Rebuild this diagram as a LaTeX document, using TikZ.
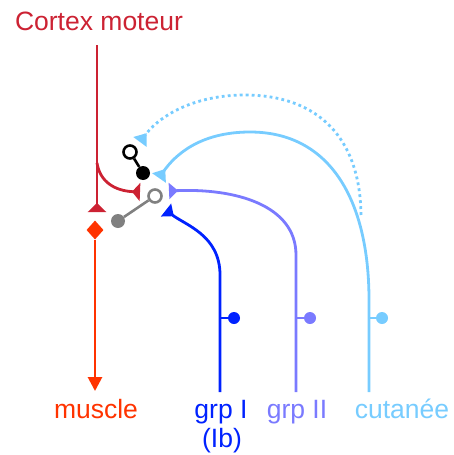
\documentclass[tikz,border=0pt]{standalone}
\usepackage{fontspec}
\setmainfont{Liberation Sans}
\usetikzlibrary{arrows.meta,%
                shapes.geometric}
\definecolor{cortex}{RGB}{204,34,51}
\definecolor{muscle}{RGB}{255,51,0}
\definecolor{grpI}{RGB}{0,34,255}
\definecolor{grpII}{RGB}{122,122,255}
\definecolor{cutan}{RGB}{119,204,255}
\definecolor{inter}{RGB}{128,128,128}
\tikzset{FibreStyle/.style = {line width=2.8pt},
         SynStyle/.style = {-{Triangle[reversed,width=18pt,length=9pt]}},
         OpenStyle/.style = {draw,circle,line width=2.6pt,fill=white,minimum size=13pt,inner sep=0pt},
         FullStyle/.style = {circle,minimum size=14pt,inner sep=0pt},
         DotStyle/.style = {circle,minimum size=12pt,inner sep=0pt},
         LabelStyle/.style = {anchor=base,font=\fontsize{26.5}{31}\selectfont}}
\begin{document}
\begin{tikzpicture}[x=1pt,y=-1pt]
		\useasboundingbox (0,0) rectangle (454,455);
		% labels
		\node[LabelStyle,text=cortex] (lCortex) at (99,30) {Cortex moteur};
		\node[LabelStyle,text=muscle] (lMuscle) at (96,418) {muscle};
		\node[LabelStyle,text=grpI] (lGrpI) at (221,418) {grp I};
		\node[LabelStyle,text=grpI] (lIb) at (222,447) {(Ib)};
		\node[LabelStyle,text=grpII] (lGrpII) at (297,418) {grp II};
		\node[LabelStyle,text=cutan] (lCutan) at (402,418) {cutan\'ee};
		% interneurones
		\node[OpenStyle,draw=black] (bOpen) at (130,152) {};
		\node[FullStyle,fill=black] (bFull) at (143,173) {};
		\draw[line width=2.6pt,black] (bOpen) -- (bFull);
		\node[OpenStyle,draw=inter] (gOpen) at (155,196) {};
		\node[FullStyle,fill=inter] (gFull) at (118,221) {};
		\draw[line width=2.6pt,inter] (gFull) -- (gOpen);
		% motoneurone
		\node[diamond,fill=muscle,minimum width=17pt,minimum height=19pt,inner sep=0pt] (mn) at (95,230) {};
		\coordinate (mnEnd) at (95,391);
		\draw[FibreStyle,muscle,-{Triangle[width=14pt,length=14pt]}] (mn) -- (mnEnd);
		% voie corticale
		\coordinate (cTop) at (97,45);
		\coordinate (cEnd) at (97,212);
		\coordinate (cBranch) at (97,163);
		\coordinate (cEndB) at (140,192);
		\draw[FibreStyle,cortex,SynStyle] (cTop) -- (cEnd);
		\draw[FibreStyle,cortex,-{Triangle[reversed,width=18pt,length=8pt]}] (cBranch) .. controls (100,182) and (115,191) .. (cEndB);
		% afferences
		\coordinate (aIBot) at (220,392);
		\coordinate (aIEnd) at (166,210);
		\draw[FibreStyle,grpI,-{Triangle[reversed,width=16pt,length=10pt]}] (aIBot) -- (220,275) .. controls (220,235) and (185,225) .. (aIEnd);
		\coordinate (aIIBot) at (296,392);
		\coordinate (aIIEnd) at (169,191);
		\draw[FibreStyle,grpII,-{Triangle[reversed,width=16pt,length=9pt]}] (aIIBot) -- (296,255) .. controls (296,205) and (235,188) .. (aIIEnd);
		\coordinate (cuBot) at (369,392);
		\coordinate (cuEnd) at (159,178);
		\draw[FibreStyle,cutan,-{Triangle[reversed,width=16pt,length=11pt]}] (cuBot) -- (369,300) .. controls (369,200) and (330,132) .. (250,132) .. controls (200,132) and (175,155) .. (cuEnd);
		\coordinate (cuDot) at (361,215);
		\coordinate (cuDotEnd) at (140,142);
		\draw[FibreStyle,cutan,dash pattern=on 2.8pt off 3.2pt,-{Triangle[reversed,width=16pt,length=11pt]}] (cuDot) .. controls (360,130) and (310,95) .. (245,95) .. controls (195,95) and (160,115) .. (cuDotEnd);
		% collaterales
		\node[DotStyle,fill=grpI] (dI) at (234,318) {};
		\node[DotStyle,fill=grpII] (dII) at (310,318) {};
		\node[DotStyle,fill=cutan] (dCu) at (382,318) {};
		\draw[FibreStyle,grpI] (220,318) -- (dI);
		\draw[FibreStyle,grpII] (296,318) -- (dII);
		\draw[FibreStyle,cutan] (369,318) -- (dCu);
	\end{tikzpicture}
\end{document}
